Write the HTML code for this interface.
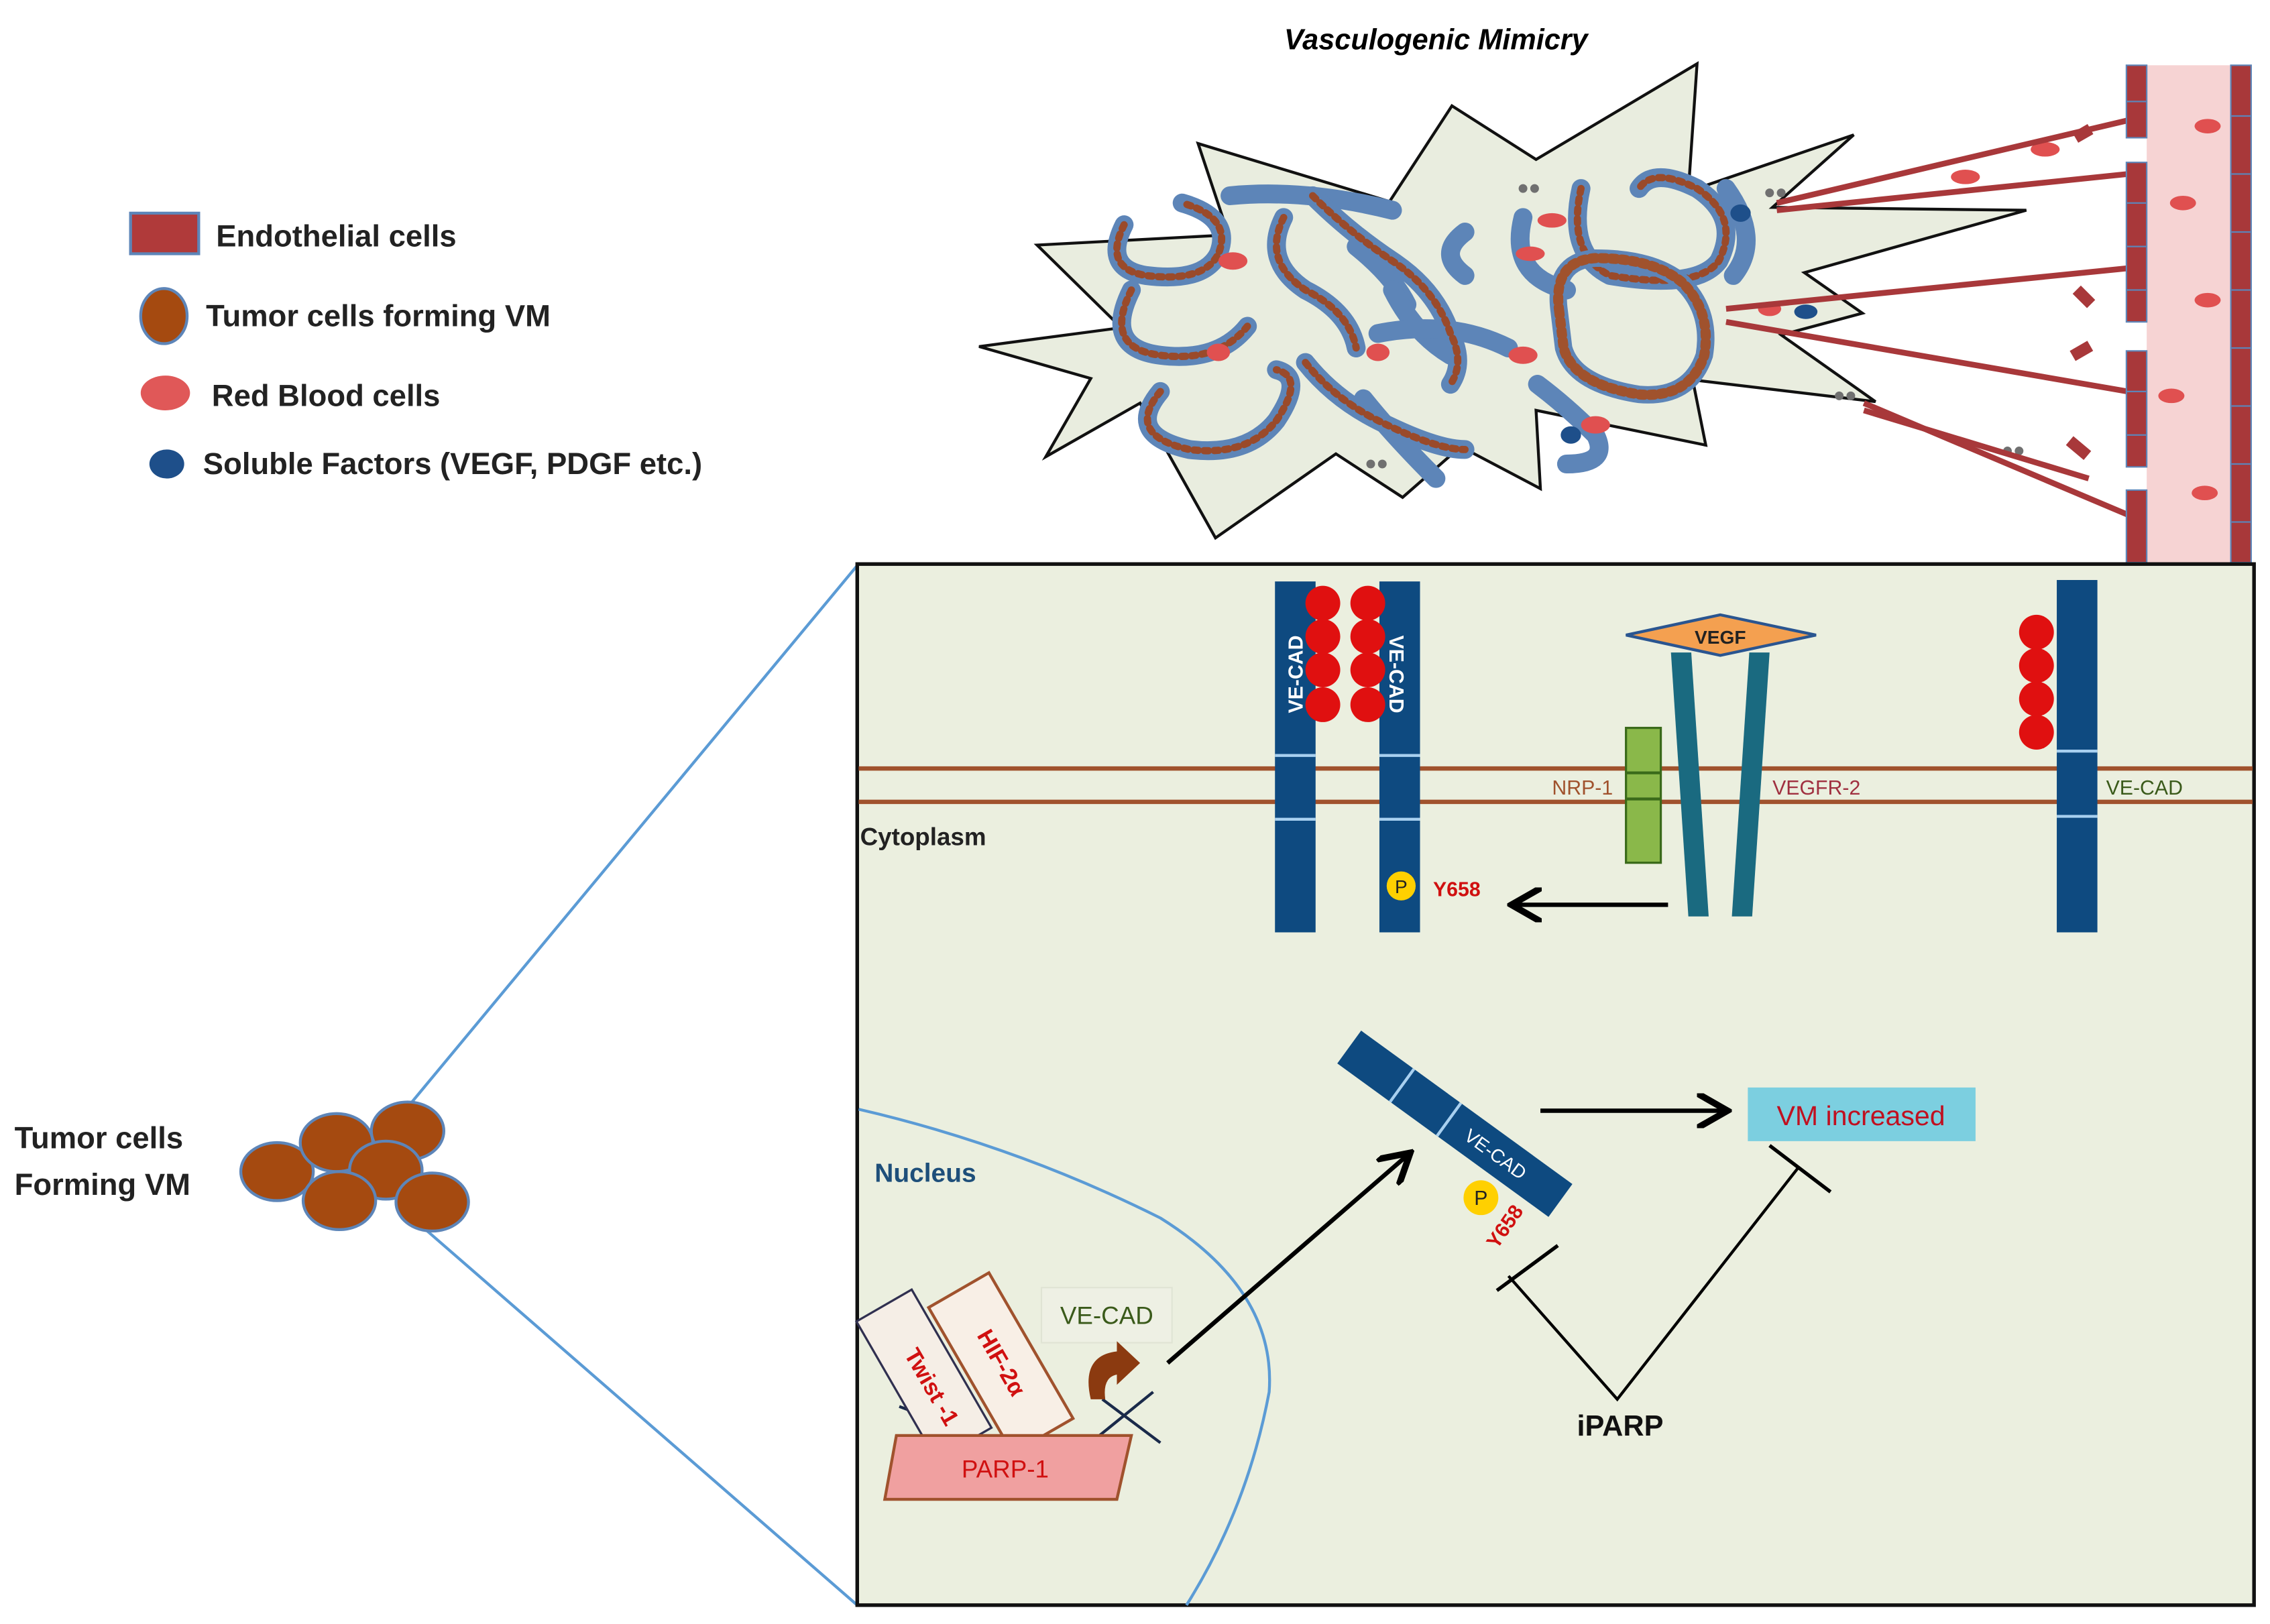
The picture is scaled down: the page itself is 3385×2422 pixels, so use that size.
<!DOCTYPE html>
<html><head><meta charset="utf-8"><style>
html,body{margin:0;padding:0;background:#fff}
svg{display:block}
text{font-family:"Liberation Sans",sans-serif}
</style></head><body>
<svg width="3385" height="2422" viewBox="0 0 1565 1120" preserveAspectRatio="none" xmlns="http://www.w3.org/2000/svg">
<defs>
<marker id="ah" markerWidth="8" markerHeight="8" refX="6" refY="4" orient="auto" markerUnits="strokeWidth"><path d="M0,0 L7,4 L0,8" fill="none" stroke="#000" stroke-width="1.5"/></marker>
</defs>
<rect width="1565" height="1120" fill="#fff"/>
<text x="990" y="34" font-size="20" font-weight="bold" font-style="italic" text-anchor="middle">Vasculogenic Mimicry</text>
<!-- star -->
<polygon points="675,239 773,226 715,169 847,162 826,99 958,139 1001,73 1059,110 1170,44 1164,132 1278,93 1222,143 1397,145 1244,188 1284,216 1228,231 1293,277 1167,262 1176,307 1059,283 1062,337 1007,308 967,343 921,313 838,371 786,278 721,315 752,261" fill="#e9eddf" stroke="#111" stroke-width="2"/>
<!-- VM tubes -->
<g fill="none" stroke-linecap="round" stroke-linejoin="round">
<g stroke="#5d85b8" stroke-width="13">
<path d="M775,155 Q760,185 790,190 Q830,195 840,175 Q850,150 815,140"/>
<path d="M848,135 Q900,130 960,145"/>
<path d="M780,200 Q760,240 800,245 Q840,250 860,225"/>
<path d="M885,150 Q870,180 900,200 Q930,215 935,240"/>
<path d="M905,135 Q930,160 960,180 Q990,200 1000,230 Q1010,250 1000,265"/>
<path d="M935,170 Q960,190 970,210"/>
<path d="M960,200 Q975,230 1000,245"/>
<path d="M1010,160 Q990,175 1010,190"/>
<path d="M1050,150 Q1040,190 1080,200"/>
<path d="M1090,130 Q1080,175 1110,190 Q1170,200 1185,180 Q1200,150 1170,130 Q1140,115 1130,130"/>
<path d="M1190,130 Q1215,165 1195,190"/>
<path d="M800,270 Q775,300 820,310 Q860,315 880,290 Q900,260 880,255"/>
<path d="M900,250 Q920,275 950,290 Q990,310 1010,310"/>
<path d="M940,275 Q960,300 990,330"/>
<path d="M1060,265 Q1080,280 1100,300 Q1110,320 1080,320"/>
<path d="M950,230 Q1000,220 1040,240"/>
</g>
<g stroke="#9a4a2a" stroke-width="5" stroke-dasharray="3 4">
<path d="M775,155 Q760,185 790,190 Q830,195 840,175 Q850,150 815,140"/>
<path d="M780,200 Q760,240 800,245 Q840,250 860,225"/>
<path d="M800,270 Q775,300 820,310 Q860,315 880,290 Q900,260 880,255"/>
<path d="M900,250 Q920,275 950,290 Q990,310 1010,310"/>
<path d="M1090,130 Q1080,175 1110,190 Q1170,200 1185,180 Q1200,150 1170,130 Q1140,115 1130,130"/>
<path d="M885,150 Q870,180 900,200 Q930,215 935,240"/>
<path d="M905,135 Q930,160 960,180 Q990,200 1000,230 Q1010,250 1000,265"/>
</g>
<path d="M1075,215 Q1070,180 1100,178 Q1140,178 1160,195 Q1180,215 1175,245 Q1165,275 1130,272 Q1085,265 1078,240 Z" stroke="#5d85b8" stroke-width="12"/>
<path d="M1075,215 Q1070,180 1100,178 Q1140,178 1160,195 Q1180,215 1175,245 Q1165,275 1130,272 Q1085,265 1078,240 Z" stroke="#a0522d" stroke-width="7" stroke-dasharray="3 4"/>
</g>
<g fill="#e05050"><ellipse cx="1070" cy="152" rx="10" ry="5"/><ellipse cx="1055" cy="175" rx="10" ry="5"/><ellipse cx="850" cy="180" rx="10" ry="6"/><ellipse cx="1050" cy="245" rx="10" ry="6"/><ellipse cx="950" cy="243" rx="8" ry="6"/><ellipse cx="840" cy="243" rx="8" ry="6"/><ellipse cx="1100" cy="293" rx="10" ry="6"/><ellipse cx="1220" cy="213" rx="8" ry="5"/><ellipse cx="1410" cy="103" rx="10" ry="5"/><ellipse cx="1355" cy="122" rx="10" ry="5"/></g>
<g fill="#1e4f8a"><ellipse cx="1200" cy="147" rx="7" ry="6"/><ellipse cx="1245" cy="215" rx="8" ry="5"/><ellipse cx="1083" cy="300" rx="7" ry="6"/></g>
<g fill="#707070"><circle cx="1050" cy="130" r="3"/><circle cx="1058" cy="130" r="3"/><circle cx="1220" cy="133" r="3"/><circle cx="1228" cy="133" r="3"/><circle cx="1268" cy="273" r="3"/><circle cx="1276" cy="273" r="3"/><circle cx="945" cy="320" r="3"/><circle cx="953" cy="320" r="3"/><circle cx="1384" cy="311" r="3"/><circle cx="1392" cy="311" r="3"/><circle cx="1493" cy="233" r="3"/><circle cx="1506" cy="305" r="3"/></g>
<g stroke="#a8383a" stroke-width="4">
<line x1="1225" y1="140" x2="1467" y2="83"/><line x1="1225" y1="145" x2="1467" y2="120"/>
<line x1="1190" y1="213" x2="1467" y2="185"/><line x1="1190" y1="222" x2="1467" y2="270"/>
<line x1="1285" y1="278" x2="1467" y2="355"/><line x1="1285" y1="283" x2="1440" y2="330"/>
</g>
<g fill="#a8383a"><rect x="1430" y="88" width="12" height="8" transform="rotate(-30 1436 92)"/><rect x="1430" y="200" width="14" height="8" transform="rotate(45 1436 204)"/><rect x="1428" y="238" width="14" height="8" transform="rotate(-30 1435 242)"/><rect x="1425" y="305" width="16" height="8" transform="rotate(40 1433 309)"/></g>
<rect x="1480" y="45" width="58" height="343" fill="#f6d3d3"/>
<g fill="#e05050"><ellipse cx="1522" cy="87" rx="9" ry="5"/><ellipse cx="1505" cy="140" rx="9" ry="5"/><ellipse cx="1522" cy="207" rx="9" ry="5"/><ellipse cx="1497" cy="273" rx="9" ry="5"/><ellipse cx="1520" cy="340" rx="9" ry="5"/></g>
<g fill="#a8383a" stroke="#5d85b8" stroke-width="1">
<rect x="1466" y="45" width="14" height="50"/><rect x="1466" y="112" width="14" height="110"/><rect x="1466" y="242" width="14" height="80"/><rect x="1466" y="338" width="14" height="50"/>
<rect x="1538" y="45" width="14" height="343"/>
</g>
<g stroke="#5d85b8" stroke-width="1"><line x1="1466" y1="70" x2="1480" y2="70"/><line x1="1466" y1="140" x2="1480" y2="140"/><line x1="1466" y1="170" x2="1480" y2="170"/><line x1="1466" y1="200" x2="1480" y2="200"/><line x1="1466" y1="270" x2="1480" y2="270"/><line x1="1466" y1="300" x2="1480" y2="300"/><line x1="1538" y1="80" x2="1552" y2="80"/><line x1="1538" y1="120" x2="1552" y2="120"/><line x1="1538" y1="160" x2="1552" y2="160"/><line x1="1538" y1="200" x2="1552" y2="200"/><line x1="1538" y1="240" x2="1552" y2="240"/><line x1="1538" y1="280" x2="1552" y2="280"/><line x1="1538" y1="320" x2="1552" y2="320"/><line x1="1538" y1="360" x2="1552" y2="360"/></g>
<!-- legend -->
<rect x="90" y="147" width="47" height="28" fill="#b03a3a" stroke="#5d85b8" stroke-width="2"/>
<text x="149" y="170" font-size="21" font-weight="bold" fill="#222">Endothelial cells</text>
<ellipse cx="113" cy="218" rx="16" ry="19" fill="#a54a10" stroke="#5d85b8" stroke-width="2"/>
<text x="142" y="225" font-size="21" font-weight="bold" fill="#222">Tumor cells forming VM</text>
<ellipse cx="114" cy="271" rx="17" ry="12" fill="#e05858"/>
<text x="146" y="280" font-size="21" font-weight="bold" fill="#222">Red Blood cells</text>
<ellipse cx="115" cy="320" rx="12" ry="10" fill="#1e4f8a"/>
<text x="140" y="327" font-size="21" font-weight="bold" fill="#222">Soluble Factors (VEGF, PDGF etc.)</text>
<text x="10" y="792" font-size="21" font-weight="bold" fill="#222">Tumor cells</text>
<text x="10" y="824" font-size="21" font-weight="bold" fill="#222">Forming VM</text>
<line x1="284" y1="760" x2="591" y2="390" stroke="#5b9bd5" stroke-width="2"/>
<line x1="290" y1="845" x2="591" y2="1107" stroke="#5b9bd5" stroke-width="2"/>
<g fill="#a54a10" stroke="#5d85b8" stroke-width="2">
<ellipse cx="191" cy="808" rx="25" ry="20"/><ellipse cx="232" cy="788" rx="25" ry="20"/><ellipse cx="281" cy="780" rx="25" ry="20"/><ellipse cx="266" cy="807" rx="25" ry="20"/><ellipse cx="234" cy="828" rx="25" ry="20"/><ellipse cx="298" cy="829" rx="25" ry="20"/>
</g>
<!-- main box -->
<rect x="591" y="389" width="963" height="718" fill="#ebefdf" stroke="#111" stroke-width="2.5"/>
<g stroke="#a0522d" stroke-width="3"><line x1="592" y1="530" x2="1553" y2="530"/><line x1="592" y1="553" x2="1553" y2="553"/></g>
<g fill="#0e4a80">
<rect x="879" y="401" width="28" height="242"/><rect x="951" y="401" width="28" height="242"/><rect x="1418" y="400" width="28" height="243"/>
</g>
<g stroke="#a8d0f0" stroke-width="2"><line x1="879" y1="521" x2="907" y2="521"/><line x1="879" y1="565" x2="907" y2="565"/><line x1="951" y1="521" x2="979" y2="521"/><line x1="951" y1="565" x2="979" y2="565"/><line x1="1418" y1="518" x2="1446" y2="518"/><line x1="1418" y1="563" x2="1446" y2="563"/></g>
<g fill="#e01010">
<ellipse cx="912" cy="416" rx="12" ry="12"/><ellipse cx="912" cy="439" rx="12" ry="12"/><ellipse cx="912" cy="462" rx="12" ry="12"/><ellipse cx="912" cy="486" rx="12" ry="12"/>
<ellipse cx="943" cy="416" rx="12" ry="12"/><ellipse cx="943" cy="439" rx="12" ry="12"/><ellipse cx="943" cy="462" rx="12" ry="12"/><ellipse cx="943" cy="486" rx="12" ry="12"/>
<ellipse cx="1404" cy="436" rx="12" ry="12"/><ellipse cx="1404" cy="459" rx="12" ry="12"/><ellipse cx="1404" cy="482" rx="12" ry="12"/><ellipse cx="1404" cy="505" rx="12" ry="12"/>
</g>
<text transform="translate(898,465) rotate(-90)" font-size="14" font-weight="bold" fill="#fff" text-anchor="middle">VE-CAD</text>
<text transform="translate(958,465) rotate(90)" font-size="14" font-weight="bold" fill="#fff" text-anchor="middle">VE-CAD</text>
<polygon points="1152,450 1166,450 1178,632 1164,632" fill="#1a6a80"/>
<polygon points="1206,450 1220,450 1208,632 1194,632" fill="#1a6a80"/>
<polygon points="1121,438 1186,424 1252,438 1186,452" fill="#f4a050" stroke="#2a5590" stroke-width="2"/>
<text x="1186" y="444" font-size="13" font-weight="bold" text-anchor="middle" fill="#222">VEGF</text>
<rect x="1121" y="502" width="24" height="93" fill="#8ab84a" stroke="#3a6a1a" stroke-width="1.5"/>
<line x1="1121" y1="533" x2="1145" y2="533" stroke="#3a6a1a" stroke-width="2"/><line x1="1121" y1="551" x2="1145" y2="551" stroke="#3a6a1a" stroke-width="2"/>
<text x="1112" y="548" font-size="14" fill="#a0522d" text-anchor="end">NRP-1</text>
<text x="1222" y="548" font-size="14" fill="#a03040">VEGFR-2</text>
<text x="1452" y="548" font-size="14" fill="#3a5a1a">VE-CAD</text>
<text x="593" y="583" font-size="17" font-weight="bold" fill="#222">Cytoplasm</text>
<circle cx="966" cy="611" r="10" fill="#ffd000"/>
<text x="966" y="616" font-size="13" text-anchor="middle" fill="#222">P</text>
<text x="988" y="618" font-size="14" font-weight="bold" fill="#d01010">Y658</text>
<line x1="1150" y1="624" x2="1045" y2="624" stroke="#000" stroke-width="3" marker-end="url(#ah)"/>
<path d="M592,765 Q700,790 800,840 Q880,890 875,960 Q860,1040 818,1107" fill="none" stroke="#5b9bd5" stroke-width="2"/>
<text x="603" y="815" font-size="18" font-weight="bold" fill="#1e4f7a">Nucleus</text>
<g transform="translate(1003,775) rotate(36)">
<rect x="-90" y="-14" width="180" height="28" fill="#0e4a80"/>
<line x1="-45" y1="-14" x2="-45" y2="14" stroke="#a8d0f0" stroke-width="2"/><line x1="-5" y1="-14" x2="-5" y2="14" stroke="#a8d0f0" stroke-width="2"/>
<text x="35" y="5" font-size="13" fill="#fff" text-anchor="middle">VE-CAD</text>
</g>
<circle cx="1021" cy="826" r="12" fill="#ffd000"/>
<text x="1021" y="831" font-size="14" text-anchor="middle" fill="#222">P</text>
<text transform="translate(1032,862) rotate(-55)" font-size="14" font-weight="bold" fill="#d01010">Y658</text>
<line x1="805" y1="940" x2="970" y2="797" stroke="#000" stroke-width="3" marker-end="url(#ah)"/>
<line x1="1062" y1="766" x2="1188" y2="766" stroke="#000" stroke-width="3" marker-end="url(#ah)"/>
<rect x="1205" y="750" width="157" height="37" fill="#7ccfe0"/>
<text x="1283" y="776" font-size="19" fill="#c01020" text-anchor="middle">VM increased</text>
<polyline points="1040,880 1115,965 1240,805" fill="none" stroke="#000" stroke-width="2"/>
<line x1="1032" y1="890" x2="1074" y2="859" stroke="#000" stroke-width="2.5"/>
<line x1="1220" y1="790" x2="1262" y2="822" stroke="#000" stroke-width="2.5"/>
<text x="1117" y="990" font-size="20" font-weight="bold" text-anchor="middle" fill="#111">iPARP</text>
<rect x="718" y="888" width="90" height="38" fill="#eef0e4" stroke="#e0e4d4"/>
<text x="763" y="913" font-size="17" fill="#3a5a1a" text-anchor="middle">VE-CAD</text>
<g stroke="#1a2a4a" stroke-width="2"><line x1="760" y1="965" x2="800" y2="995"/><line x1="758" y1="990" x2="795" y2="960"/><line x1="620" y1="970" x2="660" y2="985"/></g>
<g transform="translate(637,948) rotate(-30)"><rect x="-22" y="-55" width="44" height="110" fill="#f5eee6" stroke="#303050" stroke-width="1.5"/><text transform="rotate(90)" x="10" y="5" font-size="16" font-weight="bold" fill="#d01010" text-anchor="middle">Twist -1</text></g>
<g transform="translate(690,940) rotate(-30)"><rect x="-24" y="-58" width="48" height="116" fill="#f8efe6" stroke="#a0522d" stroke-width="2"/><text transform="rotate(90)" x="0" y="5" font-size="16" font-weight="bold" fill="#d01010" text-anchor="middle">HIF-2α</text></g>
<path d="M752,965 Q745,935 770,932 L770,925 L786,940 L770,955 L770,948 Q760,950 762,965 Z" fill="#8b3a10"/>
<polygon points="618,990 780,990 770,1034 610,1034" fill="#f0a0a0" stroke="#a0522d" stroke-width="2"/>
<text x="693" y="1019" font-size="17" fill="#d01010" text-anchor="middle">PARP-1</text>
</svg>
</body></html>
